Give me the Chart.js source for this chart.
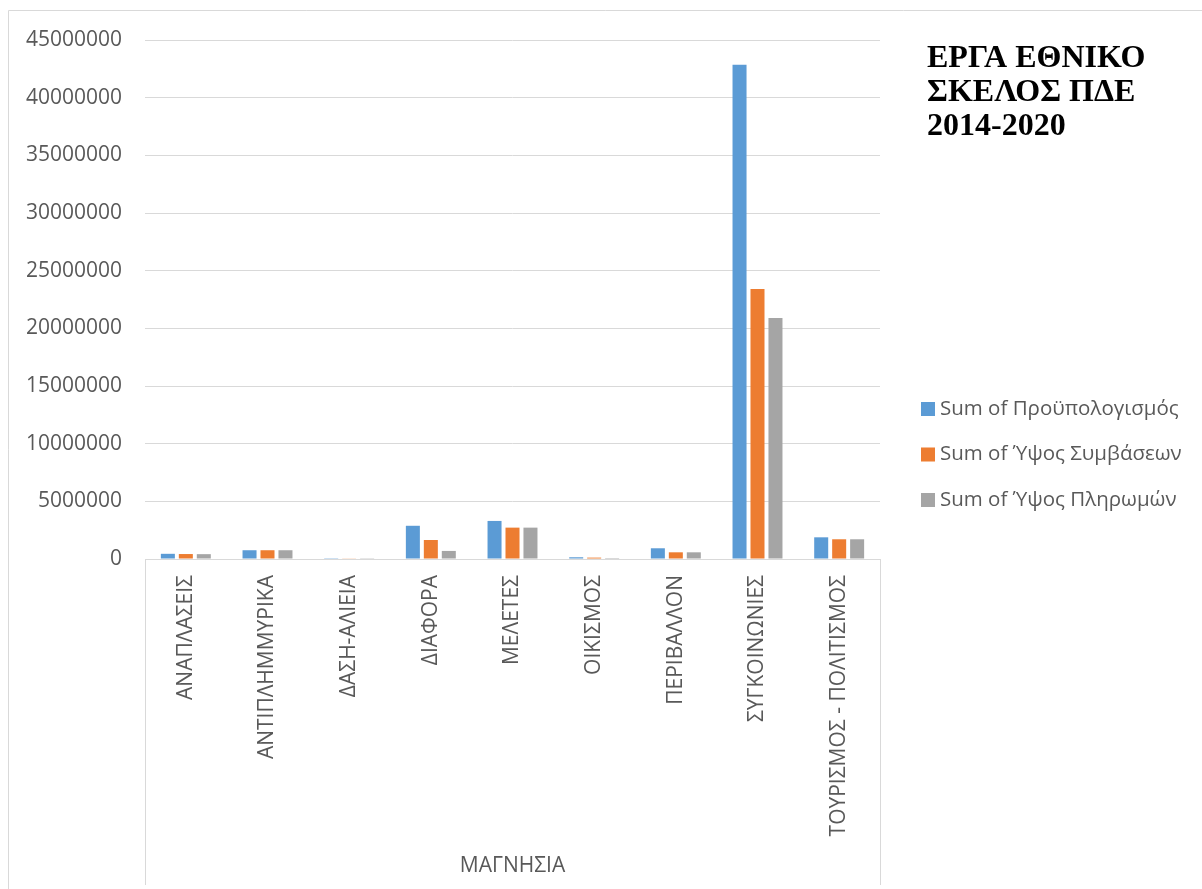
<!DOCTYPE html>
<html>
<head>
<meta charset="utf-8">
<script src="https://cdn.jsdelivr.net/npm/chart.js@4"></script>
<style>
html,body{margin:0;padding:0;background:#fff;}
canvas{display:block;}
</style>
</head>
<body>
<canvas id="c" width="1202" height="889"></canvas>
<script>
const categories = ["ΑΝΑΠΛΑΣΕΙΣ","ΑΝΤΙΠΛΗΜΜΥΡΙΚΑ","ΔΑΣΗ-ΑΛΙΕΙΑ","ΔΙΑΦΟΡΑ","ΜΕΛΕΤΕΣ","ΟΙΚΙΣΜΟΣ","ΠΕΡΙΒΑΛΛΟΝ","ΣΥΓΚΟΙΝΩΝΙΕΣ","ΤΟΥΡΙΣΜΟΣ - ΠΟΛΙΤΙΣΜΟΣ"];
const seriesNames = ["Sum of Προϋπολογισμός","Sum of Ύψος Συμβάσεων","Sum of Ύψος Πληρωμών"];
const budget    = [450000, 760000, 70000, 2880000, 3300000, 150000, 930000, 42850000, 1880000];
const contracts = [430000, 760000, 30000, 1650000, 2720000, 120000, 580000, 23400000, 1710000];
const payments  = [420000, 760000, 20000,  700000, 2720000,  80000, 580000, 20900000, 1710000];
const yTicks = [0,5000000,10000000,15000000,20000000,25000000,30000000,35000000,40000000,45000000];
const groupLabel = "ΜΑΓΝΗΣΙΑ";
const titleLines = ["ΕΡΓΑ ΕΘΝΙΚΟ","ΣΚΕΛΟΣ ΠΔΕ","2014-2020"];
const colors = ["#5B9BD5","#ED7D31","#A5A5A5"];

const txt = "#595959";
const line = "#d9d9d9";

const extras = {
  id: "extras",
  afterDraw(chart) {
    const ctx = chart.ctx;
    const a = chart.chartArea;
    ctx.save();
    // outer frame
    ctx.strokeStyle = line; ctx.lineWidth = 1;
    ctx.beginPath();
    ctx.moveTo(8.5, 889); ctx.lineTo(8.5, 10.5); ctx.lineTo(1202, 10.5);
    ctx.stroke();
    // category-axis side lines
    ctx.beginPath();
    ctx.moveTo(Math.round(a.left) + 0.5, a.bottom); ctx.lineTo(Math.round(a.left) + 0.5, 885);
    ctx.moveTo(Math.round(a.right) + 0.5, a.bottom); ctx.lineTo(Math.round(a.right) + 0.5, 885);
    ctx.stroke();
    // group label
    ctx.fillStyle = txt;
    ctx.textAlign = "center"; ctx.textBaseline = "middle";
    ctx.font = "21px 'Open Sans'";
    ctx.fillText(groupLabel, (a.left + a.right) / 2, 866);
    ctx.restore();

    // title
    ctx.save();
    ctx.fillStyle = "#000";
    ctx.textAlign = "left"; ctx.textBaseline = "alphabetic";
    ctx.font = "bold 32px 'Liberation Serif'";
    titleLines.forEach((t, i) => ctx.fillText(t, 927, 67 + i * 34));
    // legend
    ctx.font = "20.5px 'Open Sans'";
    ctx.textBaseline = "middle";
    chart.data.datasets.forEach((ds, i) => {
      const y = 409 + i * 45.5;
      ctx.fillStyle = ds.backgroundColor;
      ctx.fillRect(921, y - 7, 14, 14);
      ctx.fillStyle = txt;
      ctx.fillText(ds.label, 940, y);
    });
    ctx.restore();
  }
};

new Chart(document.getElementById("c"), {
  type: "bar",
  data: {
    labels: categories,
    datasets: [
      { label: seriesNames[0], data: budget, backgroundColor: colors[0] },
      { label: seriesNames[1], data: contracts, backgroundColor: colors[1] },
      { label: seriesNames[2], data: payments, backgroundColor: colors[2] }
    ]
  },
  options: {
    responsive: false,
    devicePixelRatio: 1,
    animation: false,
    datasets: { bar: { categoryPercentage: 0.66, barPercentage: 0.78, borderWidth: 0 } },
    layout: { padding: { left: 0, top: 40, right: 322, bottom: 0 } },
    plugins: { legend: { display: false }, title: { display: false }, tooltip: { enabled: false } },
    scales: {
      x: {
        grid: { display: false, drawTicks: false },
        border: { display: true, color: line },
        ticks: {
          autoSkip: false, minRotation: 90, maxRotation: 90, padding: 16,
          color: txt, font: { family: "'Open Sans'", size: 21 }
        },
        afterFit(s) { s.height = 889 - 559; }
      },
      y: {
        min: 0, max: 45000000,
        afterBuildTicks(s) { s.ticks = yTicks.map(v => ({ value: v })); },
        grid: { color: line, drawTicks: false },
        border: { display: false },
        ticks: {
          padding: 23, color: txt, font: { family: "'Open Sans'", size: 21 },
          callback: v => String(v)
        },
        afterFit(s) { s.width = 145; }
      }
    }
  },
  plugins: [extras]
});
</script>
</body>
</html>
